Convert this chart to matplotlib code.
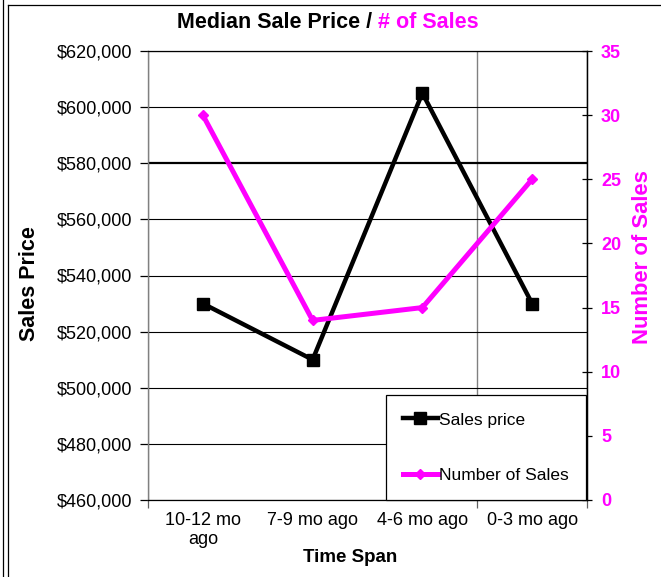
import matplotlib
matplotlib.use("Agg")
import matplotlib.pyplot as plt
from matplotlib.lines import Line2D
from matplotlib.ticker import FixedLocator, StrMethodFormatter

# ---- data ----
categories = ["10-12 mo\nago", "7-9 mo ago", "4-6 mo ago", "0-3 mo ago"]
sales_price = [530000, 510000, 605000, 530000]
num_sales = [30, 14, 15, 25]
price_ticks = [460000, 480000, 500000, 520000, 540000, 560000, 580000, 600000, 620000]
count_ticks = [0, 5, 10, 15, 20, 25, 30, 35]

MAGENTA = "#FF00FF"
W, H = 661, 577
plt.rcParams["font.family"] = ["Liberation Sans", "DejaVu Sans"]

fig = plt.figure(figsize=(W / 100, H / 100), dpi=100)
fig.patch.set_facecolor("white")

def px(x0, y0, x1, y1):
    return [x0 / W, (H - y1) / H, (x1 - x0) / W, (y1 - y0) / H]

ax = fig.add_axes(px(148, 51, 587, 500))
x = list(range(len(categories)))

ax.plot(x, sales_price, color="black", lw=3.2, marker="s", ms=8,
        label="Sales price", zorder=3, solid_joinstyle="miter")
ax.set_xlim(-0.5, len(categories) - 0.5)
ax.set_ylim(price_ticks[0], price_ticks[-1])
ax.set_yticks(price_ticks)
ax.yaxis.set_major_formatter(StrMethodFormatter("${x:,.0f}"))
ax.tick_params(axis="y", direction="out", length=6, width=0.9, pad=5.4,
               labelsize=13, colors="black")

ax.set_xticks(x)
ax.set_xticklabels(categories, fontsize=13)
ax.tick_params(axis="x", which="major", length=0, pad=8.5)
ax.xaxis.set_minor_locator(FixedLocator([-0.5, 2.5, 3.5]))
ax.tick_params(axis="x", which="minor", direction="out", length=6, width=0.9,
               color="#606060")
ax.grid(axis="x", which="minor", color="#808080", lw=1.0)
ax.grid(axis="y", which="major", color="black", lw=0.8)
for val, gl in zip(price_ticks, ax.yaxis.get_gridlines()):
    if val == 580000:
        gl.set_linewidth(1.6)

ax.spines["left"].set_color("#808080")
ax.spines["left"].set_linewidth(1.0)
for s in ("bottom", "top", "right"):
    ax.spines[s].set_color("black")
    ax.spines[s].set_linewidth(0.9)

ax2 = ax.twinx()
ax2.plot(x, num_sales, color=MAGENTA, lw=3.6, marker="D", ms=5,
         label="Number of Sales", zorder=3)
ax2.set_ylim(count_ticks[0], count_ticks[-1])
ax2.set_yticks(count_ticks)
ax2.tick_params(axis="y", direction="inout", length=7.2, width=0.9, pad=6.5,
                labelsize=13, labelcolor=MAGENTA, color="black")
for t in ax2.get_yticklabels():
    t.set_fontweight("bold")
ax2.spines["right"].set_color("black")
ax2.spines["right"].set_linewidth(0.9)
ax2.spines["left"].set_visible(False)
ax2.spines["top"].set_visible(False)
ax2.spines["bottom"].set_visible(False)

h1, l1 = ax.get_legend_handles_labels()
h2, l2 = ax2.get_legend_handles_labels()
leg = ax2.legend(h1 + h2, l1 + l2, loc="upper left",
                 bbox_to_anchor=(385.7 / W, (H - 395) / H),
                 bbox_transform=fig.transFigure, fontsize=12.5,
                 frameon=True, fancybox=False, framealpha=1, edgecolor="black",
                 borderpad=1.0, labelspacing=2.3, handlelength=2.0,
                 handletextpad=0.08, borderaxespad=0, numpoints=1)
leg.get_frame().set_linewidth(0.9)
leg.set_zorder(10)

# titles / axis labels
t1 = fig.text(327.5 / W, (H - 23) / H, "Median Sale Price / ", ha="right",
              va="center", fontsize=15.5, fontweight="bold", color="black")
t2 = fig.text(327.5 / W, (H - 23) / H, "# of Sales", ha="left", va="center",
              fontsize=15.5, fontweight="bold", color=MAGENTA)
fig.canvas.draw()
r = fig.canvas.get_renderer()
w1 = t1.get_window_extent(r).width
w2 = t2.get_window_extent(r).width
xs = 327.5 - (w1 + w2) / 2
t1.set_x((xs + w1) / W)
t2.set_x((xs + w1) / W)

fig.text(29.5 / W, (H - 284) / H, "Sales Price", rotation=90, ha="center",
         va="center", fontsize=15.5, fontweight="bold")
fig.text(642.7 / W, (H - 257.5) / H, "Number of Sales", rotation=90, ha="center",
         va="center", fontsize=15.8, fontweight="bold", color=MAGENTA)
fig.text(350 / W, (H - 557) / H, "Time Span", ha="center", va="center",
         fontsize=13.5, fontweight="bold")

# outer frame lines
def fline(xs_, ys_):
    fig.add_artist(Line2D([v / W for v in xs_], [(H - v) / H for v in ys_],
                          color="black", lw=0.9, transform=fig.transFigure))

fline([2.5, 2.5], [0, H])
fline([7.5, 7.5], [5, H])
fline([7.5, W], [5, 5])

fig.savefig("out.png", dpi=100, facecolor="white")
